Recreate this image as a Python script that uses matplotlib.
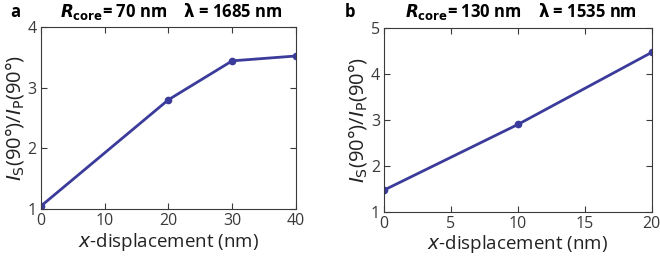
import numpy as np
import matplotlib
matplotlib.use("Agg")
import matplotlib.pyplot as plt

plt.rcParams['font.family'] = ['Open Sans', 'DejaVu Sans']
plt.rcParams['mathtext.fontset'] = 'dejavusans'

# panel a
xa = [0, 20, 30, 40]
ya = [1.05, 2.80, 3.44, 3.52]
# panel b
xb = [0, 10, 20]
yb = [1.47, 2.90, 4.47]

line_color = '#3b3b9b'
tick_color = '#3a3a3a'

fig = plt.figure(figsize=(6.6, 2.6), dpi=100)
ax1 = fig.add_axes([0.0617, 0.195, 0.3868, 0.702])
ax2 = fig.add_axes([0.582, 0.186, 0.4054, 0.706])

panels = [
    (ax1, xa, ya, (0, 40), [0, 10, 20, 30, 40], (1, 4), [1, 2, 3, 4]),
    (ax2, xb, yb, (0, 20), [0, 5, 10, 15, 20], (1, 5), [1, 2, 3, 4, 5]),
]

for ax, x, y, xlim, xt, ylim, yt in panels:
    ax.plot(x, y, '-o', color=line_color, lw=2, ms=4.5)
    ax.set_xlim(*xlim)
    ax.set_ylim(*ylim)
    ax.set_xticks(xt)
    ax.set_yticks(yt)
    ax.tick_params(direction='in', top=True, right=True, length=4,
                   labelsize=11.5, colors=tick_color, width=0.8, pad=3)
    for s in ax.spines.values():
        s.set_color(tick_color)
        s.set_linewidth(0.8)
    ax.set_xlabel(r'$x$-displacement (nm)', fontsize=13.5, color='#222222', labelpad=1)
    ax.set_ylabel(r'$I_\mathrm{S}$(90°)/$I_\mathrm{P}$(90°)', fontsize=14.5,
                  color='#222222', labelpad=1)

fig.text(0.015, 0.955, 'a', fontsize=12, fontweight='bold', va='center')
fig.text(0.523, 0.955, 'b', fontsize=12, fontweight='bold', va='center')
fig.text(0.26, 0.955, r'$\mathbfit{R}_{\mathbf{core}}$= 70 nm    $\mathbf{\lambda}$ = 1685 nm',
         fontsize=12, fontweight='bold', ha='center', va='center')
fig.text(0.79, 0.955, r'$\mathbfit{R}_{\mathbf{core}}$= 130 nm    $\mathbf{\lambda}$ = 1535 nm',
         fontsize=12, fontweight='bold', ha='center', va='center')

fig.savefig('out.png', dpi=100)
